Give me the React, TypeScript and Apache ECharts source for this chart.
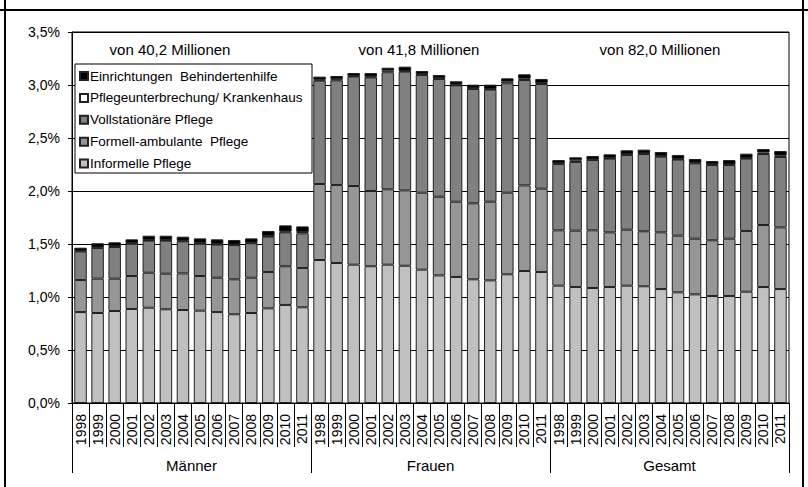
import React, { useEffect, useRef } from 'react';
import * as echarts from 'echarts';

const years = ['1998', '1999', '2000', '2001', '2002', '2003', '2004', '2005', '2006', '2007', '2008', '2009', '2010', '2011'];
const groups = ['Männer', 'Frauen', 'Gesamt'];
const groupTotals = ['von 40,2 Millionen', 'von 41,8 Millionen', 'von 82,0 Millionen'];
const yTicks = [0, 0.5, 1, 1.5, 2, 2.5, 3, 3.5];

const seriesNames = [
  'Informelle Pflege',
  'Formell-ambulante  Pflege',
  'Vollstationäre Pflege',
  'Pflegeunterbrechung/ Krankenhaus',
  'Einrichtungen  Behindertenhilfe',
];

// values in % — order: Männer 1998..2011, Frauen 1998..2011, Gesamt 1998..2011
const informell = [
  0.858, 0.849, 0.868, 0.887, 0.899, 0.884, 0.877, 0.871, 0.858, 0.837, 0.849, 0.893, 0.925, 0.903,
  1.349, 1.321, 1.305, 1.29, 1.305, 1.295, 1.258, 1.204, 1.189, 1.167, 1.157, 1.214, 1.245, 1.236,
  1.107, 1.094, 1.085, 1.094, 1.107, 1.101, 1.075, 1.044, 1.025, 1.009, 1.009, 1.05, 1.094, 1.075,
];
const ambulant = [
  0.302, 0.324, 0.305, 0.311, 0.33, 0.336, 0.346, 0.327, 0.324, 0.33, 0.333, 0.343, 0.365, 0.371,
  0.717, 0.736, 0.742, 0.71, 0.711, 0.711, 0.726, 0.742, 0.71, 0.717, 0.742, 0.77, 0.808, 0.786,
  0.522, 0.532, 0.544, 0.516, 0.528, 0.519, 0.535, 0.535, 0.525, 0.526, 0.541, 0.573, 0.585, 0.582,
];
const stationaer = [
  0.27, 0.289, 0.299, 0.305, 0.302, 0.311, 0.302, 0.305, 0.312, 0.323, 0.325, 0.333, 0.32, 0.326,
  0.975, 0.987, 1.032, 1.072, 1.104, 1.12, 1.11, 1.111, 1.098, 1.078, 1.057, 1.032, 0.994, 0.987,
  0.626, 0.648, 0.663, 0.695, 0.705, 0.729, 0.714, 0.717, 0.711, 0.71, 0.695, 0.682, 0.67, 0.664,
];
const unterbrechung = [
  0.005, 0.005, 0.005, 0.005, 0.005, 0.005, 0.005, 0.005, 0.005, 0.005, 0.005, 0.005, 0.008, 0.013,
  0.008, 0.01, 0.006, 0.006, 0.015, 0.006, 0.006, 0.006, 0.006, 0.006, 0.006, 0.015, 0.012, 0.01,
  0.005, 0.016, 0.005, 0.005, 0.005, 0.005, 0.005, 0.005, 0.005, 0.005, 0.005, 0.005, 0.014, 0.012,
];
const behindertenhilfe = [
  0.03, 0.04, 0.039, 0.036, 0.042, 0.042, 0.039, 0.045, 0.045, 0.043, 0.041, 0.049, 0.058, 0.053,
  0.03, 0.031, 0.028, 0.035, 0.028, 0.041, 0.032, 0.031, 0.032, 0.035, 0.041, 0.032, 0.042, 0.038,
  0.032, 0.028, 0.033, 0.036, 0.039, 0.036, 0.039, 0.039, 0.036, 0.033, 0.042, 0.042, 0.033, 0.044,
];

const seriesData = [informell, ambulant, stationaer, unterbrechung, behindertenhilfe];
const seriesColors = ['#c0c0c0', '#969696', '#808080', '#ffffff', '#000000'];

const FONT = '"Liberation Sans", Arial, Helvetica, sans-serif';

export default function App() {
  const ref = useRef<HTMLDivElement>(null);

  useEffect(() => {
    if (!ref.current) return;
    const chart = echarts.init(ref.current, undefined, { renderer: 'svg' });
    const categories = groups.flatMap((g) => years.map((y) => `${g}|${y}`));

    const option: any = {
      animation: false,
      textStyle: { fontFamily: FONT, color: '#000' },
      grid: {
        left: 72,
        right: 19,
        top: 32,
        bottom: 84,
        show: true,
        borderColor: '#000',
        borderWidth: 1,
        backgroundColor: 'transparent',
      },
      legend: {
        orient: 'vertical',
        left: 79,
        top: 69,
        padding: 0,
        itemGap: 7.9,
        itemWidth: 8,
        itemHeight: 8,
        icon: 'rect',
        selectedMode: false,
        z: 10,
        data: [...seriesNames].reverse(),
        textStyle: { fontSize: 13.5, fontFamily: FONT, color: '#000', lineHeight: 14, padding: [0, 0, 0, -3] },
      },
      xAxis: [
        {
          type: 'category',
          data: categories,
          position: 'bottom',
          axisLine: { show: true, lineStyle: { color: '#000', width: 1 } },
          axisTick: { show: true, interval: 0, length: 44, lineStyle: { color: '#000', width: 1 } },
          axisLabel: {
            interval: 0,
            rotate: 90,
            margin: 11,
            fontSize: 14,
            fontFamily: FONT,
            color: '#000',
            formatter: (v: string) => v.split('|')[1],
          },
          splitLine: { show: false },
        },
        {
          type: 'category',
          data: groups,
          position: 'bottom',
          axisLine: { show: false },
          axisTick: { show: true, interval: 0, length: 70, lineStyle: { color: '#000', width: 1 } },
          axisLabel: { interval: 0, margin: 55, fontSize: 15, fontFamily: FONT, color: '#000' },
          splitLine: { show: false },
        },
      ],
      yAxis: {
        type: 'value',
        min: yTicks[0],
        max: yTicks[yTicks.length - 1],
        interval: 0.5,
        axisLine: { show: true, lineStyle: { color: '#000', width: 1 } },
        axisTick: { show: true, length: 4, lineStyle: { color: '#000' } },
        axisLabel: {
          margin: 12,
          fontSize: 14,
          fontFamily: FONT,
          color: '#000',
          formatter: (v: number) => `${v.toFixed(1).replace('.', ',')}%`,
        },
        splitLine: { show: true, lineStyle: { color: '#000', width: 1 } },
      },
      series: seriesNames.map((name, i) => ({
        name,
        type: 'bar',
        stack: 'total',
        xAxisIndex: 0,
        data: seriesData[i],
        barWidth: 12.5,
        itemStyle: { color: seriesColors[i], borderColor: '#222', borderWidth: 1 },
        emphasis: { disabled: true },
      })),
      graphic: [
        {
          type: 'rect',
          z: 3,
          shape: { x: 75, y: 64, width: 237, height: 109 },
          style: { fill: '#fff', stroke: '#000', lineWidth: 1 },
        },
        ...groupTotals.map((t, i) => ({
          type: 'text',
          z: 5,
          x: [170, 419, 660][i],
          y: 49,
          style: {
            text: t,
            fontSize: 15,
            fontFamily: FONT,
            fill: '#000',
            textAlign: 'center',
            textVerticalAlign: 'middle',
          },
        })),
        { type: 'line', z: 20, shape: { x1: 5, y1: 0, x2: 5, y2: 487 }, style: { stroke: '#000', lineWidth: 2 } },
        { type: 'line', z: 20, shape: { x1: 803, y1: 0, x2: 803, y2: 487 }, style: { stroke: '#000', lineWidth: 2 } },
        { type: 'line', z: 20, shape: { x1: 0, y1: 10, x2: 808, y2: 10 }, style: { stroke: '#000', lineWidth: 2 } },
      ],
    };

    chart.setOption(option);
    return () => chart.dispose();
  }, []);

  return (
    <div
      ref={ref}
      style={{ position: 'fixed', left: 0, top: 0, width: 808, height: 487, background: '#fff' }}
    />
  );
}
